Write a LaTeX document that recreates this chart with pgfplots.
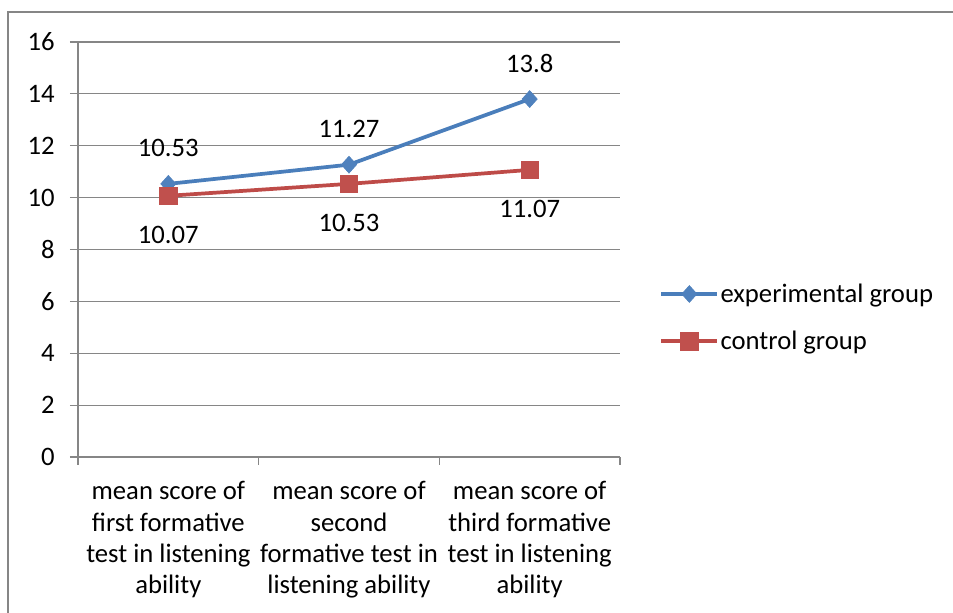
\documentclass[border=0pt]{standalone}
\usepackage{pgfplots}
\pgfplotsset{compat=1.18}
\usepackage{fontspec}
\setmainfont{Carlito}
\definecolor{expblue}{HTML}{4A7EBB}
\definecolor{expfill}{HTML}{4F81BD}
\definecolor{conred}{HTML}{BE4B48}
\definecolor{confill}{HTML}{C0504D}
\definecolor{gridgray}{HTML}{868686}
\begin{document}
\begin{tikzpicture}[font=\fontsize{20}{23.5}\selectfont]
\useasboundingbox (0,0) rectangle (714.75pt,459.75pt);
\draw[gridgray, line width=1.5pt] (6pt,-20pt) -- (6pt,450.75pt) -- (740pt,450.75pt);
\begin{axis}[
  at={(58.5pt,117pt)}, anchor=south west,
  scale only axis, width=406.5pt, height=311.25pt,
  xmin=0.5, xmax=3.5, ymin=0, ymax=16,
  ytick={0,2,...,16},
  xtick={1,2,3},
  xticklabels={{mean score of\\first formative\\test in listening\\ability},
               {mean score of\\second\\formative test in\\listening ability},
               {mean score of\\third formative\\test in listening\\ability}},
  xticklabel style={align=center, yshift=-9pt},
  minor xtick={0.5,1.5,2.5,3.5},
  axis x line*=bottom, axis y line*=left,
  axis line style={gridgray, line width=0.9pt},
  tick align=outside,
  major tick length=6pt, minor tick length=6pt,
  x tick style={draw=none},
  minor x tick style={draw=gridgray, line width=0.9pt},
  y tick style={gridgray, line width=0.9pt},
  ymajorgrids, grid style={gridgray, line width=0.9pt},
  /pgf/number format/assume math mode=true,
  yticklabel style={xshift=-8pt},
  tick label style={font=\fontsize{20}{23.5}\selectfont},
  legend style={at={(1.065,0.431)}, anchor=north west, draw=none, fill=none,
    row sep=16pt, font=\fontsize{20}{23.5}\selectfont, nodes={inner xsep=1pt}},
  legend cell align=left,
  legend image code/.code={\draw[mark repeat=2,mark phase=2,#1] plot coordinates {(0pt,0pt) (21pt,0pt) (42pt,0pt)};},
  clip=false,
  nodes near coords, point meta=explicit symbolic,
]
\addplot[expblue, line width=2.8pt, mark=diamond*, mark size=6.3pt,
  mark options={fill=expfill, draw=expfill, line width=0.5pt, xscale=1.2},
  every node near coord/.append style={anchor=center, yshift=27pt, black, font=\fontsize{20}{23.5}\selectfont}]
  coordinates {(1,10.53)[10.53] (2,11.27)[11.27] (3,13.8)[13.8]};
\addlegendentry{experimental group}
\addplot[conred, line width=2.8pt, mark=square*, mark size=6.5pt,
  mark options={fill=confill, draw=confill, line width=0.5pt},
  every node near coord/.append style={anchor=center, yshift=-29pt, black, font=\fontsize{20}{23.5}\selectfont}]
  coordinates {(1,10.07)[10.07] (2,10.53)[10.53] (3,11.07)[11.07]};
\addlegendentry{control group}
\end{axis}
\end{tikzpicture}
\end{document}
